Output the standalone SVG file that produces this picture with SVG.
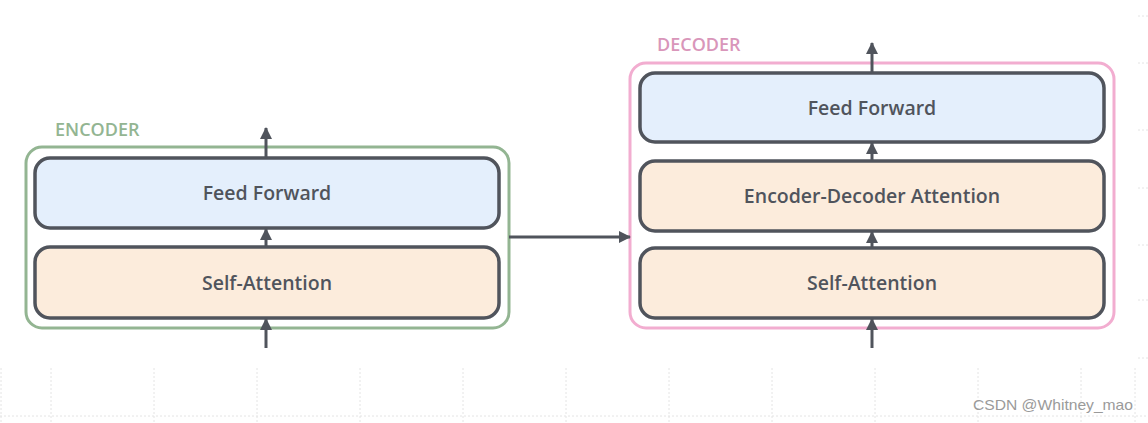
<svg xmlns="http://www.w3.org/2000/svg" width="1148" height="423" viewBox="0 0 1148 423">
<defs>
<marker id="ah" viewBox="0 0 12 12" refX="11" refY="6" markerWidth="12" markerHeight="12" markerUnits="userSpaceOnUse" orient="auto">
<path d="M0,0 L12,6 L0,12 Z" fill="#50545c"/>
</marker>
</defs>
<style>
.grid{stroke:#e4e4e4;stroke-width:1;stroke-dasharray:2 2;fill:none}
.enc{fill:#ffffff;stroke:#93b592;stroke-width:3}
.dec{fill:#ffffff;stroke:#f2add0;stroke-width:3}
.ff{fill:#e4effc;stroke:#50545c;stroke-width:3.5}
.att{fill:#fcecdc;stroke:#50545c;stroke-width:3.5}
.lbl{font-family:"Open Sans","Noto Sans",sans-serif;font-weight:600;font-size:19.5px;fill:#50545c;text-anchor:middle}
.ttl{font-family:"Open Sans","Noto Sans",sans-serif;font-weight:600;font-size:18px}
.arr{stroke:#50545c;stroke-width:3;fill:none;marker-end:url(#ah)}
</style>
<rect width="1148" height="423" fill="#ffffff"/>
<g id="grid">
<path class="grid" d="M1,368V423 M51,368V423 M154,368V423 M257,368V423 M360,368V423 M463,368V423 M566,368V423 M669,368V423 M772,368V423 M875,368V423 M978,368V423 M1081,368V423 M1135,368V423 M0,416H1148"/>
<path class="grid" d="M1138,16H1148 M1138,63H1148 M1138,130H1148 M1138,188H1148 M1138,245H1148 M1138,300H1148 M1138,358H1148"/>
</g>
<g id="encoder">
<rect class="enc" x="26" y="147" width="483" height="181" rx="16"/>
<text class="ttl" x="55" y="136" fill="#93b592">ENCODER</text>
</g>
<g id="enc-ff">
<rect class="ff" x="35" y="158" width="464" height="70" rx="15"/>
<text class="lbl" x="267" y="200">Feed Forward</text>
</g>
<g id="enc-sa">
<rect class="att" x="35" y="247" width="464" height="71" rx="15"/>
<text class="lbl" x="267" y="290">Self-Attention</text>
</g>
<g id="decoder">
<rect class="dec" x="630" y="63" width="484" height="265" rx="16"/>
<text class="ttl" x="657" y="51" fill="#d996ba">DECODER</text>
</g>
<g id="dec-ff">
<rect class="ff" x="640" y="73" width="464" height="69" rx="15"/>
<text class="lbl" x="872" y="115">Feed Forward</text>
</g>
<g id="dec-eda">
<rect class="att" x="640" y="161" width="464" height="70" rx="15"/>
<text class="lbl" x="872" y="203">Encoder-Decoder Attention</text>
</g>
<g id="dec-sa">
<rect class="att" x="640" y="248" width="464" height="70" rx="15"/>
<text class="lbl" x="872" y="290">Self-Attention</text>
</g>
<g id="connectors">
<line class="arr" x1="266" y1="348" x2="266" y2="319"/>
<line class="arr" x1="266" y1="247" x2="266" y2="229"/>
<line class="arr" x1="266" y1="158" x2="266" y2="128"/>
<line class="arr" x1="509" y1="237" x2="630" y2="237"/>
<line class="arr" x1="872" y1="348" x2="872" y2="319"/>
<line class="arr" x1="872" y1="248" x2="872" y2="232"/>
<line class="arr" x1="872" y1="161" x2="872" y2="143"/>
<line class="arr" x1="872" y1="73" x2="872" y2="43"/>
</g>
<text x="973" y="410" font-family="'Liberation Sans',Arial,sans-serif" font-size="15" fill="#9a9a9a" textLength="160" lengthAdjust="spacingAndGlyphs">CSDN @Whitney_mao</text>
</svg>
